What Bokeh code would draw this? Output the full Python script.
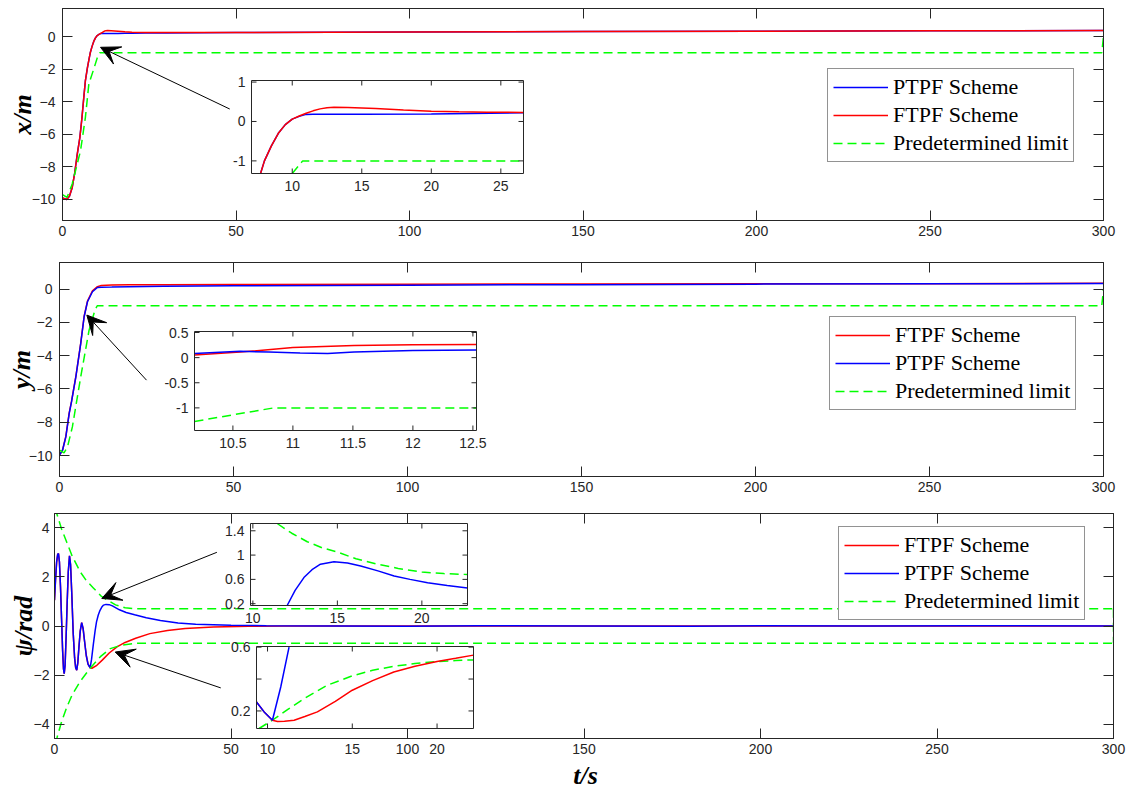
import numpy as np
from bokeh.plotting import figure
from bokeh.layouts import column, row
from bokeh.models import (Range1d, LinearAxis, FixedTicker, Legend, LegendItem,
                          Arrow, VeeHead, ColumnDataSource, LabelSet)
from bokeh.core.properties import value
from bokeh.embed import file_html
from bokeh.resources import INLINE

# ---------------- data ----------------
t_ticks = [0, 50, 100, 150, 200, 250, 300]

# panel 1 : x/m
x_yticks = [-10, -8, -6, -4, -2, 0]
x_t = [0, 1.2, 2.0, 2.8, 3.5, 4.2, 5.0, 5.6, 6.2, 6.6, 7.2, 7.7, 8.0, 8.5, 9.0, 9.5, 10.0, 10.5,
       11.0, 11.5, 12.0, 12.5, 13.0, 14, 16, 18, 20, 24, 30, 50, 100, 150, 200, 250, 300]
x_ftpf = [-9.9, -10.0, -9.8, -9.26, -8.4, -7.3, -6.2, -5.0, -3.6, -2.7, -1.9, -1.32, -1.0, -0.62,
          -0.3, -0.08, 0.06, 0.13, 0.19, 0.25, 0.32, 0.36, 0.37, 0.36, 0.33, 0.29, 0.26, 0.24, 0.24,
          0.25, 0.28, 0.31, 0.33, 0.35, 0.37]
x_ptpf = [-9.9, -10.0, -9.8, -9.26, -8.4, -7.3, -6.2, -5.0, -3.6, -2.7, -1.9, -1.32, -1.0, -0.62,
          -0.3, -0.08, 0.06, 0.13, 0.18, 0.19, 0.19, 0.19, 0.19, 0.19, 0.19, 0.195, 0.2, 0.21, 0.22,
          0.25, 0.28, 0.31, 0.33, 0.35, 0.37]
x_lim_t = [0, 1.3, 2.8, 4.0, 5.2, 6.6, 7.6, 9.0, 10.0, 10.75, 299.5, 300]
x_lim = [-9.7, -9.87, -9.05, -8.03, -7.0, -4.96, -2.9, -2.0, -1.32, -1.0, -1.0, 0.0]
# inset 1
ix_xticks = [10, 15, 20, 25]
ix_yticks = [-1, 0, 1]
ix_t = [7.72, 8.0, 8.5, 9.0, 9.5, 10.0, 10.5, 11.0, 11.5, 12.0, 12.5, 13.0, 14, 16, 18, 20, 22, 24, 26.63]
ix_ftpf = [-1.32, -1.0, -0.62, -0.3, -0.08, 0.06, 0.14, 0.21, 0.27, 0.32, 0.35, 0.36, 0.355, 0.33,
           0.29, 0.26, 0.245, 0.235, 0.23]
ix_ptpf_t = [7.72, 8.0, 8.5, 9.0, 9.5, 10.0, 10.5, 11.0, 11.5, 15, 20, 26.63]
ix_ptpf = [-1.32, -1.0, -0.62, -0.3, -0.08, 0.06, 0.13, 0.18, 0.185, 0.185, 0.19, 0.22]
ix_lim_t = [10.0, 10.75, 26.63]
ix_lim = [-1.32, -1.0, -1.0]

# panel 2 : y/m
y_yticks = [-10, -8, -6, -4, -2, 0]
y_t = [0, 0.87, 1.82, 2.78, 3.45, 4.7, 6.1, 7.08, 8.04, 9.47, 10.9, 12, 15, 20, 30, 50, 100, 150, 200, 250, 300]
y_ptpf = [-9.98, -9.68, -8.88, -7.48, -6.78, -5.27, -3.27, -1.66, -0.76, -0.16, 0.1, 0.12, 0.13, 0.15,
          0.17, 0.2, 0.24, 0.27, 0.3, 0.32, 0.34]
y_ftpf = [-9.98, -9.68, -8.85, -7.45, -6.75, -5.25, -3.25, -1.63, -0.72, -0.1, 0.15, 0.22, 0.25, 0.26,
          0.27, 0.28, 0.3, 0.31, 0.32, 0.33, 0.35]
y_lim_t = [0, 1.3, 2.3, 3.7, 6.1, 8.5, 10.18, 10.84, 299.5, 300]
y_lim = [-9.68, -9.84, -9.48, -8.28, -5.27, -2.47, -1.27, -1.0, -1.0, 0.0]
# inset 2
iy_xticks = [10.5, 11, 11.5, 12, 12.5]
iy_yticks = [-1, -0.5, 0, 0.5]
iy_ptpf_t = [10.18, 10.56, 10.8, 11.06, 11.29, 11.51, 12.0, 12.53]
iy_ptpf = [0.08, 0.125, 0.11, 0.09, 0.08, 0.11, 0.14, 0.15]
iy_ftpf_t = [10.18, 10.56, 11.0, 11.51, 12.0, 12.53]
iy_ftpf = [0.05, 0.11, 0.2, 0.24, 0.255, 0.26]
iy_lim_t = [10.18, 10.84, 12.53]
iy_lim = [-1.27, -1.0, -1.0]

# panel 3 : psi/rad
p_yticks = [-4, -2, 0, 2, 4]
psi_osc_t = [0, 0.3, 0.6, 0.9, 1.13, 1.4, 1.7, 2.0, 2.3, 2.55, 2.75, 3.0, 3.3, 3.6, 3.9, 4.25, 4.55,
             4.9, 5.3, 5.7, 6.0, 6.3, 6.6, 6.9, 7.3, 7.7, 8.1, 8.5, 9.0, 9.5, 10.1]
psi_osc = [1.05, 1.9, 2.6, 2.92, 2.95, 2.6, 1.6, 0.3, -1.0, -1.75, -1.94, -1.6, -0.4, 1.0, 2.2, 2.86,
           2.5, 1.3, -0.3, -1.3, -1.7, -1.8, -1.5, -0.9, -0.2, 0.14, -0.1, -0.6, -1.2, -1.55, -1.7]
psi_ptpf_tail_t = [10.5, 11.0, 11.5, 11.9, 12.4, 12.9, 13.4, 13.9, 14.6, 15.5, 16.4, 17.4, 18.4, 20.3,
                   22.7, 26, 30, 35, 40, 50, 60, 80, 100, 120, 150, 180, 200, 230, 260, 300]
psi_ptpf_tail = [-1.35, -0.75, -0.2, 0.17, 0.45, 0.64, 0.77, 0.85, 0.88, 0.87, 0.82, 0.74, 0.66, 0.55,
                 0.46, 0.34, 0.22, 0.12, 0.07, 0.03, 0.01, 0.0, -0.01, 0.01, 0.0, -0.01, 0.01, 0.0, 0.01, 0.0]
psi_ftpf_tail_t = [10.6, 12.0, 13.6, 15.5, 17.7, 20, 23, 27, 32, 37, 45, 55, 65, 300]
psi_ftpf_tail = [-1.72, -1.6, -1.38, -1.1, -0.85, -0.67, -0.5, -0.31, -0.18, -0.1, -0.04, -0.01, 0.0, 0.0]
psi_up_t = [0, 0.7, 2, 3.5, 5, 7.3, 9, 11, 13.2, 15, 17.3, 20, 22.7, 26, 300]
psi_up = [4.8, 4.55, 3.95, 3.4, 2.85, 2.2, 1.85, 1.55, 1.22, 1.05, 0.86, 0.74, 0.7, 0.7, 0.7]
psi_lo_t = [0, 0.7, 2, 3.5, 5, 7.3, 10.1, 13, 15.8, 19, 22.4, 26, 300]
psi_lo = [-4.8, -4.55, -3.9, -3.3, -2.8, -2.25, -1.72, -1.25, -0.92, -0.78, -0.71, -0.7, -0.7]
# inset 3 (upper)
i3_xticks = [10, 15, 20]
i3_yticks = [0.2, 0.6, 1.0, 1.4]
i3_ylabels = ["0.2", "0.6", "1", "1.4"]
i3_ptpf_t = [12.03, 12.5, 13.02, 13.5, 14.0, 14.8, 15.6, 16.38, 17.4, 18.36, 19.3, 20.34, 21.5, 22.7]
i3_ptpf = [0.17, 0.42, 0.63, 0.76, 0.85, 0.89, 0.87, 0.82, 0.74, 0.655, 0.6, 0.544, 0.5, 0.46]
i3_lim_t = [11.44, 12.3, 13.22, 14.1, 15.0, 16.1, 17.37, 18.6, 20.0, 21.3, 22.7]
i3_lim = [1.52, 1.36, 1.22, 1.12, 1.05, 0.94, 0.85, 0.78, 0.72, 0.695, 0.68]
# inset 4 (lower)
i4_xticks = [10, 15, 20]
i4_yticks = [0.2, 0.4, 0.6]
i4_ylabels = ["0.2", "", "0.6"]
i4_ptpf_t = [9.35, 9.8, 10.29, 10.78, 11.27]
i4_ptpf = [0.256, 0.194, 0.142, 0.35, 0.6]
i4_ftpf_t = [9.35, 9.8, 10.29, 10.59, 11.0, 11.57, 12.2, 12.94, 14.0, 15.0, 16.2, 17.45, 18.7, 20.0, 21.1, 22.15]
i4_ftpf = [0.256, 0.194, 0.142, 0.134, 0.136, 0.142, 0.165, 0.194, 0.26, 0.33, 0.39, 0.444, 0.48, 0.51, 0.53, 0.55]
i4_lim_t = [9.5, 10.29, 11.2, 12.15, 13.5, 15.0, 16.2, 17.45, 18.7, 20.0, 21.1, 22.15]
i4_lim = [0.09, 0.142, 0.21, 0.277, 0.36, 0.42, 0.455, 0.48, 0.497, 0.51, 0.516, 0.52]

# arrows (tail, head) in data units
arrow1 = ((48.2, -4.45), (10.95, -0.66))
arrow2 = ((25.0, -5.47), (7.85, -1.56))
arrow3a = ((46.0, 3.0), (13.4, 1.12))
arrow3b = ((47.1, -2.52), (17.2, -1.06))

# ---------------- style ----------------
BLUE = "#0000FF"
RED = "#FF0000"
GREEN = "#00FF00"
DASH = "9 5"
AX = "#262626"
LW = 1.5
TICK_FONT = "Liberation Sans"
TICK_SIZE = "14px"


def style_axis(ax, standoff):
    ax.major_tick_in = 10
    ax.major_tick_out = 0
    ax.minor_tick_in = 0
    ax.minor_tick_out = 0
    ax.axis_line_color = AX
    ax.major_tick_line_color = AX
    ax.minor_tick_line_color = AX
    ax.major_label_text_font = TICK_FONT
    ax.major_label_text_font_size = TICK_SIZE
    ax.major_label_text_color = AX
    ax.major_label_standoff = standoff
    ax.axis_label_text_font = "Liberation Serif"
    ax.axis_label_text_font_style = "bold italic"
    ax.axis_label_text_font_size = "26px"
    ax.axis_label_text_color = "black"
    ax.axis_label_standoff = 0


def make_panel(height, bt, bb, bl, br, ylim, yticks, ylabel, ystandoff, ylabel_standoff):
    p = figure(width=1141, height=height, x_range=Range1d(0, 300), y_range=Range1d(*ylim),
               output_backend="svg", toolbar_location=None,
               min_border_top=bt, min_border_bottom=bb, min_border_left=bl, min_border_right=br,
               background_fill_color="white", border_fill_color="white")
    p.grid.visible = False
    p.outline_line_color = AX
    p.outline_line_width = 1
    xa, ya = p.below[0], p.left[0]
    xa.ticker = FixedTicker(ticks=t_ticks)
    ya.ticker = FixedTicker(ticks=yticks)
    style_axis(xa, 5)
    style_axis(ya, ystandoff)
    ya.axis_label = ylabel
    ya.axis_label_standoff = ylabel_standoff
    for tks, place in ((t_ticks, "above"), (yticks, "right")):
        a = LinearAxis(ticker=FixedTicker(ticks=[], minor_ticks=tks))
        style_axis(a, 0)
        a.minor_tick_in = 10
        a.minor_tick_out = 0
        p.add_layout(a, place)
    return p, xa


def inset_setup(p, name, frame, box, xlim, ylim):
    FL, FT, W, H = frame
    L, R, T, B = box
    sx = (xlim[1] - xlim[0]) / (R - L)
    sy = (ylim[1] - ylim[0]) / (B - T)
    xs = xlim[0] - (L - FL) * sx
    ys = ylim[0] - (FT + H - B) * sy
    exr = dict(p.extra_x_ranges)
    eyr = dict(p.extra_y_ranges)
    exr[name] = Range1d(xs, xs + W * sx)
    eyr[name] = Range1d(ys, ys + H * sy)
    p.extra_x_ranges = exr
    p.extra_y_ranges = eyr
    kw = dict(x_range_name=name, y_range_name=name)
    p.quad(left=[xlim[0]], right=[xlim[1]], bottom=[ylim[0]], top=[ylim[1]],
           fill_color="white", line_color=None, **kw)
    return kw, sx, sy, (xs, xs + W * sx)


def inset_frame(p, kw, sx, sy, xlim, ylim, xticks, yticks, ylabels=None, xlabels=True):
    x0, x1 = xlim
    y0, y1 = ylim
    tl = 5
    nx, ny = len(xticks), len(yticks)
    p.segment(x0=xticks, y0=[y0] * nx, x1=xticks, y1=[y0 + tl * sy] * nx, line_color=AX, line_width=1, **kw)
    p.segment(x0=xticks, y0=[y1] * nx, x1=xticks, y1=[y1 - tl * sy] * nx, line_color=AX, line_width=1, **kw)
    p.segment(x0=[x0] * ny, y0=yticks, x1=[x0 + tl * sx] * ny, y1=yticks, line_color=AX, line_width=1, **kw)
    p.segment(x0=[x1] * ny, y0=yticks, x1=[x1 - tl * sx] * ny, y1=yticks, line_color=AX, line_width=1, **kw)
    p.quad(left=[x0], right=[x1], bottom=[y0], top=[y1], fill_color=None, line_color=AX, line_width=1, **kw)
    common = dict(text_font=value(TICK_FONT), text_font_size=TICK_SIZE, text_color=AX, **kw)
    if xlabels:
        xsrc = ColumnDataSource(dict(x=xticks, y=[y0] * nx, txt=[("%g" % v) for v in xticks]))
        p.add_layout(LabelSet(x="x", y="y", text="txt", source=xsrc, y_offset=-7,
                              text_align="center", text_baseline="top", **common))
    if ylabels is None:
        ylabels = [("%g" % v) for v in yticks]
    keep = [i for i, s in enumerate(ylabels) if s]
    ysrc = ColumnDataSource(dict(x=[x0] * len(keep), y=[yticks[i] for i in keep],
                                 txt=[ylabels[i] for i in keep]))
    p.add_layout(LabelSet(x="x", y="y", text="txt", source=ysrc, x_offset=-6,
                          text_align="right", text_baseline="middle", **common))


def add_arrow(p, arr):
    (xs, ys), (xe, ye) = arr
    p.add_layout(Arrow(x_start=xs, y_start=ys, x_end=xe, y_end=ye, line_color="black", line_width=1,
                       end=VeeHead(size=19, fill_color="black", line_color="black")))


def add_legend(p, items, loc):
    leg = Legend(items=[LegendItem(label=l, renderers=[r]) for l, r in items], location=loc,
                 label_text_font="Liberation Serif", label_text_font_size="22px", label_text_color="black",
                 border_line_color=AX, border_line_width=1, background_fill_color="white",
                 background_fill_alpha=1.0, glyph_width=55, glyph_height=22, label_height=22,
                 label_standoff=5, padding=5, spacing=2, margin=0)
    p.add_layout(leg)


# ---------------- panel 1 ----------------
p1, xa1 = make_panel(242, 8, 22, 62, 38, (-11.29, 1.72), x_yticks, "x/m", 7, -8)
F1 = (62, 8, 1041, 212)
b1 = p1.line(x_t, x_ptpf, line_color=BLUE, line_width=LW)
r1 = p1.line(x_t, x_ftpf, line_color=RED, line_width=LW)
g1 = p1.line(x_lim_t, x_lim, line_color=GREEN, line_width=LW, line_dash=DASH)
add_arrow(p1, arrow1)
xl1, yl1 = (7.07, 26.63), (-1.32, 1.04)
kw, sx, sy, _ = inset_setup(p1, "in1", F1, (251, 523, 80, 173), xl1, yl1)
p1.line(ix_ptpf_t, ix_ptpf, line_color=BLUE, line_width=LW, **kw)
p1.line(ix_t, ix_ftpf, line_color=RED, line_width=LW, **kw)
p1.line(ix_lim_t, ix_lim, line_color=GREEN, line_width=LW, line_dash=DASH, **kw)
inset_frame(p1, kw, sx, sy, xl1, yl1, ix_xticks, ix_yticks)
add_legend(p1, [("PTPF Scheme", b1), ("FTPF Scheme", r1), ("Predetermined limit", g1)], (765, 58))

# ---------------- panel 2 ----------------
p2, xa2 = make_panel(258, 20, 24, 59, 38, (-11.26, 1.6), y_yticks, "y/m", 7, -10)
F2 = (59, 262, 1044, 214)
r2 = p2.line(y_t, y_ftpf, line_color=RED, line_width=LW)
b2 = p2.line(y_t, y_ptpf, line_color=BLUE, line_width=LW)
g2 = p2.line(y_lim_t, y_lim, line_color=GREEN, line_width=LW, line_dash=DASH)
add_arrow(p2, arrow2)
xl2, yl2 = (10.18, 12.53), (-1.45, 0.52)
kw, sx, sy, _ = inset_setup(p2, "in2", F2, (194, 476, 331, 430), xl2, yl2)
p2.line(iy_ftpf_t, iy_ftpf, line_color=RED, line_width=LW, **kw)
p2.line(iy_ptpf_t, iy_ptpf, line_color=BLUE, line_width=LW, **kw)
p2.line(iy_lim_t, iy_lim, line_color=GREEN, line_width=LW, line_dash=DASH, **kw)
inset_frame(p2, kw, sx, sy, xl2, yl2, iy_xticks, iy_yticks)
add_legend(p2, [("FTPF Scheme", r2), ("PTPF Scheme", b2), ("Predetermined limit", g2)], (770, 66))

# ---------------- panel 3 ----------------
p3, xa3 = make_panel(262, 13, 24, 54, 28, (-4.58, 4.58), p_yticks, "ψ/rad", 5, -7)
F3 = (54, 513, 1059, 225)
r3 = p3.line(psi_osc_t + psi_ftpf_tail_t, psi_osc + psi_ftpf_tail, line_color=RED, line_width=LW)
b3 = p3.line(psi_osc_t + psi_ptpf_tail_t, psi_osc + psi_ptpf_tail, line_color=BLUE, line_width=LW)
g3 = p3.line(psi_up_t, psi_up, line_color=GREEN, line_width=LW, line_dash=DASH)
p3.line(psi_lo_t, psi_lo, line_color=GREEN, line_width=LW, line_dash=DASH)
p3.line([psi_up_t[-1], psi_lo_t[-1]], [psi_up[-1], psi_lo[-1]], line_color=GREEN, line_width=LW, line_dash=DASH)
add_arrow(p3, arrow3a)
add_arrow(p3, arrow3b)
xl3, yl3 = (9.86, 22.7), (0.17, 1.52)
kw, sx, sy, _ = inset_setup(p3, "in3", F3, (250, 467, 523, 605), xl3, yl3)
p3.line(i3_lim_t, i3_lim, line_color=GREEN, line_width=LW, line_dash=DASH, **kw)
p3.line(i3_ptpf_t, i3_ptpf, line_color=BLUE, line_width=LW, **kw)
inset_frame(p3, kw, sx, sy, xl3, yl3, i3_xticks, i3_yticks, i3_ylabels)
xl4, yl4 = (9.35, 22.15), (0.09, 0.604)
kw, sx, sy, xr4 = inset_setup(p3, "in4", F3, (256, 473, 646, 728), xl4, yl4)
p3.line(i4_lim_t, i4_lim, line_color=GREEN, line_width=LW, line_dash=DASH, **kw)
p3.line(i4_ftpf_t, i4_ftpf, line_color=RED, line_width=LW, **kw)
p3.line(i4_ptpf_t, i4_ptpf, line_color=BLUE, line_width=LW, **kw)
inset_frame(p3, kw, sx, sy, xl4, yl4, i4_xticks, i4_yticks, i4_ylabels, xlabels=False)
# inset-4 x tick labels sit below the main frame: carry them on the main x axis
# (main tick marks become minor ticks so these extra labels get no tick marks)
i4_main = [300.0 * (v - xr4[0]) / (xr4[1] - xr4[0]) for v in i4_xticks]
xa3.ticker = FixedTicker(ticks=t_ticks + i4_main, minor_ticks=t_ticks)
xa3.major_tick_in = 0
xa3.minor_tick_in = 10
xa3.major_label_overrides = {m: "%g" % v for m, v in zip(i4_main, i4_xticks)}
add_legend(p3, [("FTPF Scheme", r3), ("PTPF Scheme", b3), ("Predetermined limit", g3)], (784, 118))

# ---------------- shared x-axis title strip ----------------
pt = figure(width=1141, height=30, x_range=Range1d(0, 1141), y_range=Range1d(0, 30),
            x_axis_type=None, y_axis_type=None, output_backend="svg", toolbar_location=None,
            min_border=0, outline_line_color=None, background_fill_color="white",
            border_fill_color="white")
pt.grid.visible = False
pt.text(x=[585], y=[17], text=["t/s"], text_font=value("Liberation Serif"), text_font_style="bold italic",
        text_font_size="26px", text_color="black", text_align="center", text_baseline="middle")

layout = column(row(p1), row(p2), row(p3), row(pt), spacing=0)
open("out.html", "w").write(file_html(layout, INLINE))
